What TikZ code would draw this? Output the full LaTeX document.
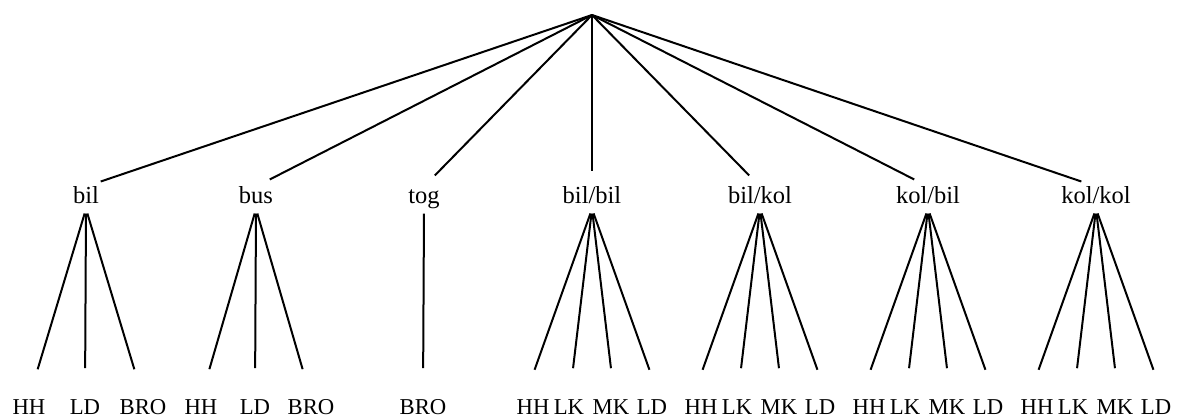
\documentclass[tikz,border=0pt]{standalone}
\usepackage{fontspec}
\setmainfont{Liberation Serif}
\begin{document}
\begin{tikzpicture}[x=1pt,y=-1pt,line width=2pt,
    mid/.style={anchor=base,inner sep=0pt,text height=15.5pt,text depth=5pt,
      font=\fontsize{24.5}{28}\selectfont},
    leaf/.style={anchor=base,inner sep=0pt,text height=15pt,text depth=0pt,
      font=\fontsize{22.7}{27}\selectfont},
    up/.style={shorten >=15.5pt},
    down/.style={shorten <=4.7pt,shorten >=30pt}]
  \useasboundingbox (0,0) rectangle (1177,417);
  \coordinate(R) at (592,15);
  \node[mid](bil) at (86,203){bil};
  \node[mid](bus) at (256,203){bus};
  \node[mid](tog) at (424,203){tog};
  \node[mid](bb) at (592,203){bil/bil};
  \node[mid](bk) at (760,203){bil/kol};
  \node[mid](kb) at (928,203){kol/bil};
  \node[mid](kk) at (1096,203){kol/kol};
  \foreach \p in {bil,bus,tog,bb,bk,kb,kk}
    \draw[up](R)--(\p.north);
  % three-way and one-way groups
  \foreach \l/\x in {HH/29,LD/85,BRO/143}{
    \node[leaf](bil\l) at (\x,414){\l};
    \draw[down](bil.south)--(bil\l.north);
  }
  \foreach \l/\x in {HH/201,LD/255,BRO/311}{
    \node[leaf](bus\l) at (\x,414){\l};
    \draw[down](bus.south)--(bus\l.north);
  }
  \node[leaf](togBRO) at (423,414){BRO};
  \draw[down](tog.south)--(togBRO.north);
  % four-way groups
  \foreach \p/\x in {bb/592,bk/760,kb/928,kk/1096}{
    \foreach \l/\d/\s in {HH/-59/-8.5,LK/-23/0.5,MK/19/3.5,LD/60/7.5}{
      \node[leaf](\p\l) at ({\x+(\d)},414){\l};
      \draw[down](\p.south)--([xshift=\s pt]\p\l.north);
    }
  }
\end{tikzpicture}
\end{document}
